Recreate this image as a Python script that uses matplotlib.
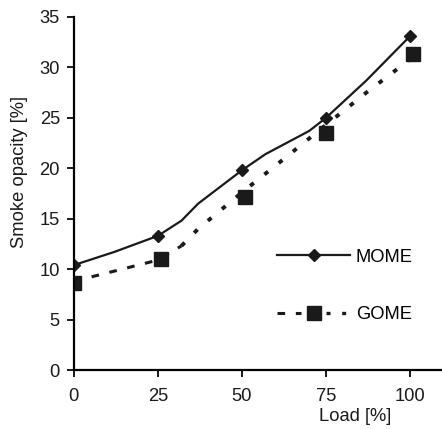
import matplotlib.pyplot as plt
from matplotlib.lines import Line2D
from matplotlib.legend_handler import HandlerTuple

plt.rcParams['font.family'] = ['Liberation Sans', 'DejaVu Sans']

# measured points
load = [0, 25, 50, 75, 100]
mome = [10.4, 13.3, 19.8, 25.0, 33.1]
gome_load = [0, 26, 51, 75, 101]
gome = [8.6, 11.0, 17.2, 23.5, 31.3]

# fitted curves as drawn in the figure
mome_curve_x = [0, 12, 25, 32, 37, 50, 57, 70, 75, 87, 100]
mome_curve_y = [10.4, 11.7, 13.3, 14.8, 16.5, 19.8, 21.4, 23.7, 25.0, 28.7, 33.1]
gome_dash_x = [0, 12, 25, 32]
gome_dash_y = [8.8, 9.8, 10.9, 12.3]
gome_dot_x = [32, 37, 50, 62, 75, 87, 100]
gome_dot_y = [12.3, 14.0, 17.6, 20.8, 24.3, 27.5, 30.8]

fs = 13.2
fig = plt.figure(figsize=(4.42, 4.29), dpi=100)
ax = fig.add_axes([0.167, 0.1375, 0.833, 0.823])

ax.plot(mome_curve_x, mome_curve_y, color='#1a1a1a', lw=1.6)
ax.plot(load, mome, 'D', color='#1a1a1a', ms=6)
ax.plot(gome_dash_x, gome_dash_y, color='#1a1a1a', lw=2.2, dashes=(2.5, 3.5))
ax.plot(gome_dot_x, gome_dot_y, color='#1a1a1a', lw=2.8, dashes=(1.2, 3.5))
ax.plot(gome_load, gome, 's', color='#1a1a1a', ms=10)

ax.set_xlim(0, 109.5)
ax.set_ylim(0, 35)
ax.set_xticks(load)
ax.set_yticks(range(0, 36, 5))
ax.spines['top'].set_visible(False)
ax.spines['right'].set_visible(False)
ax.spines['left'].set_linewidth(1.6)
ax.spines['bottom'].set_linewidth(1.6)
ax.tick_params(direction='out', length=5, width=1.4, labelsize=fs, colors='#1a1a1a')
ax.tick_params(axis='x', pad=8)
ax.tick_params(axis='y', pad=5)

ax.set_ylabel('Smoke opacity [%]', fontsize=fs, color='#1a1a1a')
ax.yaxis.set_label_coords(-0.125, 0.56)
ax.set_xlabel('Load [%]', fontsize=fs, color='#1a1a1a')
ax.xaxis.set_label_coords(0.764, -0.108)

# legend handles: GOME is dashed on the left, dotted on the right
h1 = Line2D([], [], color='#1a1a1a', lw=1.6, marker='D', ms=6)
g_dash = Line2D([], [], color='#1a1a1a', lw=2.2, dashes=(2.5, 3.5))
g_mark = Line2D([], [], color='#1a1a1a', ls='none', marker='s', ms=10)
g_dot = Line2D([], [], color='#1a1a1a', lw=2.4, dashes=(1.2, 3.5))
ax.legend([h1, (g_dash, g_mark, g_dot)], ['MOME', 'GOME'], frameon=False, fontsize=fs,
          loc='center left', bbox_to_anchor=(0.552, 0.238), handlelength=4.0,
          labelspacing=2.2, handletextpad=0.3, borderpad=0, borderaxespad=0,
          handler_map={tuple: HandlerTuple(ndivide=3, pad=0)})

fig.savefig('out.png', dpi=100)
